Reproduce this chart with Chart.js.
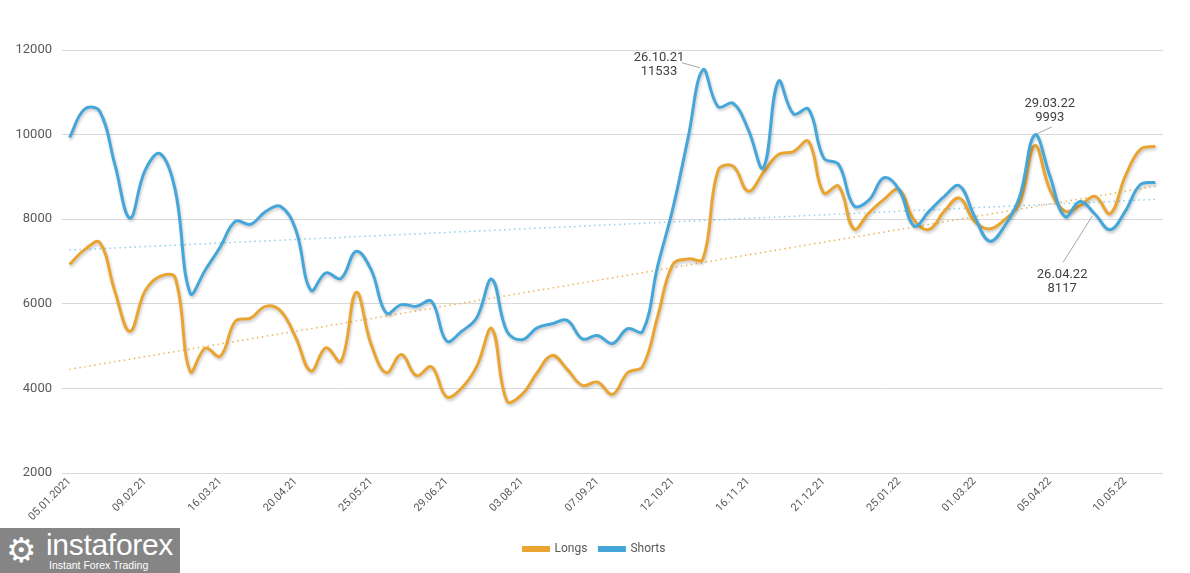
<!DOCTYPE html>
<html>
<head>
<meta charset="utf-8">
<script src="https://cdn.jsdelivr.net/npm/chart.js@4.4.1/dist/chart.umd.min.js"></script>
<style>
  html, body { margin: 0; padding: 0; background: #ffffff; }
  #wrap { position: relative; width: 1190px; height: 573px; overflow: hidden; }
  #c { position: absolute; left: 0; top: 0; }
  #logo { position: absolute; left: 0; top: 528px; width: 180px; height: 45px; background: #858585; color: #fff; font-family: "Liberation Sans", Arial, sans-serif; }
  #logo .gear { position: absolute; left: 6px; top: 2px; font-family: "DejaVu Sans"; font-size: 34px; line-height: 40px; }
  #logo .name { position: absolute; left: 46px; top: 2px; font-size: 30px; line-height: 30px; font-family: "Liberation Sans", sans-serif; letter-spacing: -0.3px; }
  #logo .sub { position: absolute; left: 49px; top: 31px; font-size: 10.5px; line-height: 12px; }
</style>
</head>
<body>
<div id="wrap">
  <canvas id="c" width="1190" height="573"></canvas>
  <div id="logo"><span class="gear">&#x2699;</span><span class="name">instaforex</span><span class="sub">Instant Forex Trading</span></div>
</div>
<script>
const dates = [
  '05.01.2021','12.01.21','19.01.21','26.01.21','02.02.21','09.02.21','16.02.21','23.02.21','02.03.21','09.03.21',
  '16.03.21','23.03.21','30.03.21','06.04.21','13.04.21','20.04.21','27.04.21','04.05.21','11.05.21','18.05.21',
  '25.05.21','01.06.21','08.06.21','15.06.21','22.06.21','29.06.21','06.07.21','13.07.21','20.07.21','27.07.21',
  '03.08.21','10.08.21','17.08.21','24.08.21','31.08.21','07.09.21','14.09.21','21.09.21','28.09.21','05.10.21',
  '12.10.21','19.10.21','26.10.21','02.11.21','09.11.21','16.11.21','23.11.21','30.11.21','07.12.21','14.12.21',
  '21.12.21','28.12.21','04.01.22','11.01.22','18.01.22','25.01.22','01.02.22','08.02.22','15.02.22','22.02.22',
  '01.03.22','08.03.22','15.03.22','22.03.22','29.03.22','05.04.22','12.04.22','19.04.22','26.04.22','03.05.22',
  '10.05.22','17.05.22','24.05.22'
];

const longs = [
  6930, 7280, 7450, 6300, 5350, 6300, 6650, 6620, 4400, 4950,
  4760, 5590, 5660, 5940, 5830, 5200, 4410, 4960, 4640, 6270,
  5040, 4370, 4800, 4300, 4510, 3800, 4010, 4520, 5410, 3700,
  3860, 4370, 4780, 4450, 4070, 4150, 3860, 4370, 4520, 5710,
  6930, 7060, 7060, 9150, 9250, 8660, 9100, 9530, 9600, 9840,
  8620, 8780, 7770, 8150, 8470, 8700, 7980, 7760, 8190, 8500,
  7950, 7770, 7990, 8390, 9740, 8700, 8190, 8320, 8540, 8130,
  9020, 9650, 9725
];

const shorts = [
  9930, 10600, 10550, 9300, 8030, 9150, 9550, 8700, 6250, 6800,
  7350, 7950, 7880, 8180, 8300, 7750, 6320, 6730, 6600, 7240,
  6800, 5780, 5980, 5940, 6060, 5120, 5350, 5670, 6580, 5350,
  5150, 5430, 5530, 5610, 5170, 5250, 5060, 5410, 5350, 6900,
  8250, 9900, 11533, 10660, 10740, 10120, 9215, 11260, 10490, 10600,
  9450, 9290, 8320, 8450, 8980, 8700, 7840, 8190, 8540, 8790,
  8070, 7480, 7840, 8540, 9993, 9020, 8060, 8420, 8117, 7750,
  8190, 8820, 8870
];

// trend line end values (first and last week)
const longsTrendEnds = [4450, 8780];
const shortsTrendEnds = [7270, 8470];

const yTicks = [2000, 4000, 6000, 8000, 10000, 12000];
const seriesNames = ['Longs', 'Shorts'];

// annotated points: [series index, point index]
const callouts = [[1, 42], [1, 64], [1, 68]];

const ORANGE = '#E9A431';
const BLUE = '#45A6DA';
const last = dates.length - 1;
const trendData = ends => dates.map((_, i) => i === 0 ? ends[0] : (i === last ? ends[1] : null));

const shadowPlugin = {
  id: 'shadow',
  beforeDatasetDraw(chart, args) {
    if (args.index > 1) return;
    const ctx = chart.ctx;
    ctx.save();
    ctx.shadowColor = 'rgba(0,0,0,0.22)';
    ctx.shadowBlur = 3;
    ctx.shadowOffsetX = 1;
    ctx.shadowOffsetY = 2;
  },
  afterDatasetDraw(chart, args) {
    if (args.index > 1) return;
    chart.ctx.restore();
  }
};

const legendShift = {
  id: 'legendShift',
  afterLayout(chart) {
    if (chart.legend) { chart.legend.left += 13; chart.legend.right += 13; }
  }
};

// label offsets relative to the point (text centre, leader line end)
const calloutGeom = [
  { tx: -44, ty: -12, lx1: -3, ly1: -2, lx2: -21, ly2: -7 },
  { tx: 15, ty: -31, lx1: 2, ly1: -1, lx2: 17, ly2: -8 },
  { tx: -33, ty: 60, lx1: -3, ly1: 2, lx2: -32, ly2: 48 }
];

const calloutPlugin = {
  id: 'callouts',
  afterDatasetsDraw(chart) {
    const ctx = chart.ctx;
    const xs = chart.scales.x, ys = chart.scales.y;
    callouts.forEach(([s, i], k) => {
      const v = chart.data.datasets[s].data[i];
      const px = xs.getPixelForValue(i);
      const py = ys.getPixelForValue(v);
      const g = calloutGeom[k];
      ctx.save();
      ctx.strokeStyle = '#a6a6a6';
      ctx.lineWidth = 1;
      ctx.beginPath();
      ctx.moveTo(px + g.lx1, py + g.ly1);
      ctx.lineTo(px + g.lx2, py + g.ly2);
      ctx.stroke();
      ctx.fillStyle = '#404040';
      ctx.font = '13px Roboto, "Liberation Sans", sans-serif';
      ctx.textAlign = 'center';
      ctx.textBaseline = 'middle';
      ctx.fillText(dates[i], px + g.tx, py + g.ty);
      ctx.fillText(String(v), px + g.tx, py + g.ty + 14);
      ctx.restore();
    });
  }
};

new Chart(document.getElementById('c'), {
  type: 'line',
  data: {
    labels: dates,
    datasets: [
      { label: seriesNames[0], data: longs, borderColor: ORANGE, backgroundColor: ORANGE, borderWidth: 3, tension: 0.4, pointRadius: 0, fill: false, order: 1 },
      { label: seriesNames[1], data: shorts, borderColor: BLUE, backgroundColor: BLUE, borderWidth: 3, tension: 0.4, pointRadius: 0, fill: false, order: 0 },
      { label: 'trendL', data: trendData(longsTrendEnds), borderColor: '#EDB354', borderWidth: 1.5, borderDash: [1.5, 3.5], pointRadius: 0, spanGaps: true, tension: 0, order: 3 },
      { label: 'trendS', data: trendData(shortsTrendEnds), borderColor: '#8fd0ea', borderWidth: 1.5, borderDash: [1.5, 3.5], pointRadius: 0, spanGaps: true, tension: 0, order: 2 }
    ]
  },
  options: {
    responsive: false,
    animation: false,
    devicePixelRatio: 1,
    layout: { padding: { left: 0, right: 27, top: 50, bottom: 8 } },
    plugins: {
      tooltip: { enabled: false },
      legend: {
        position: 'bottom',
        labels: {
          filter: item => item.datasetIndex < 2,
          sort: (a, b) => a.datasetIndex - b.datasetIndex,
          boxWidth: 25, boxHeight: 3, padding: 12,
          color: '#595959',
          font: { size: 12, family: 'Roboto, "Liberation Sans", sans-serif' }
        }
      }
    },
    scales: {
      x: {
        type: 'category',
        offset: true,
        grid: { display: false, drawTicks: false },
        border: { display: false },
        ticks: {
          autoSkip: false, maxRotation: 45, minRotation: 45, padding: 2,
          color: '#595959',
          font: { size: 11, family: 'Roboto, "Liberation Sans", sans-serif' },
          callback: (v, i) => (i % 5 === 0 ? dates[i] : '')
        },
        afterFit: s => { s.height = 58; }
      },
      y: {
        min: yTicks[0], max: yTicks[yTicks.length - 1],
        afterBuildTicks: s => { s.ticks = yTicks.map(v => ({ value: v })); },
        grid: { color: '#d9d9d9', drawTicks: false, lineWidth: 1 },
        border: { display: false },
        ticks: {
          padding: 10, color: '#595959',
          font: { size: 13, family: 'Roboto, "Liberation Sans", sans-serif' },
          callback: v => String(v)
        },
        afterFit: s => { s.width = 62; }
      }
    }
  },
  plugins: [shadowPlugin, calloutPlugin, legendShift]
});
</script>
</body>
</html>
